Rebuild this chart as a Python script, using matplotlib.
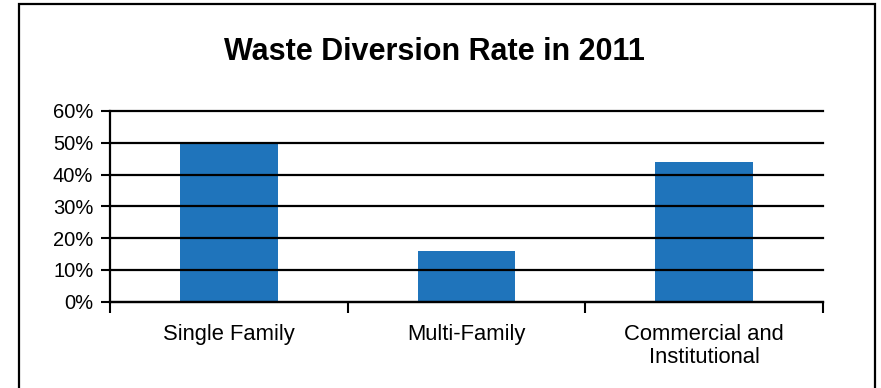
import matplotlib
matplotlib.use("Agg")
import matplotlib.pyplot as plt
from matplotlib.patches import Rectangle

plt.rcParams['font.family'] = ['Liberation Sans', 'DejaVu Sans']

title = "Waste Diversion Rate in 2011"
categories = ["Single Family", "Multi-Family", "Commercial and\nInstitutional"]
rates = [50, 15.9, 43.9]
y_ticks = [0, 10, 20, 30, 40, 50, 60]
y_tick_labels = ["0%", "10%", "20%", "30%", "40%", "50%", "60%"]

bar_color = "#1F74BB"

fig = plt.figure(figsize=(8.81, 3.88), dpi=100)
ax = fig.add_axes([110 / 881, 86.5 / 388, 713 / 881, 190.5 / 388])

positions = list(range(len(categories)))
ax.bar(positions, rates, width=0.41, color=bar_color, zorder=1)

ax.set_xlim(-0.5, len(categories) - 0.5)
ax.set_ylim(y_ticks[0], y_ticks[-1])

# y axis: percentage ticks with black gridlines across the plot
ax.set_yticks(y_ticks)
ax.set_yticklabels(y_tick_labels, fontsize=14.5)
ax.tick_params(axis='y', length=6.5, width=1.5, pad=5.5, color='black')
ax.yaxis.grid(True, color='black', linewidth=1.6, zorder=2)
for line in ax.get_ygridlines():
    line.set_clip_on(False)

# x axis: ticks at category boundaries, labels centred under the bars
boundaries = [p - 0.5 for p in positions] + [positions[-1] + 0.5]
ax.set_xticks(boundaries)
ax.set_xticklabels([""] * len(boundaries))
ax.tick_params(axis='x', which='major', direction='out', length=8, width=1.5)
ax.set_xticks(positions, minor=True)
ax.set_xticklabels(categories, minor=True, fontsize=15.8, linespacing=1.12)
ax.tick_params(axis='x', which='minor', length=0, pad=16)

for side in ('top', 'right'):
    ax.spines[side].set_visible(False)
for side in ('left', 'bottom'):
    ax.spines[side].set_linewidth(1.6)
    ax.spines[side].set_color('black')

fig.text(434 / 881, 1 - 51.5 / 388, title, ha='center', va='center',
         fontsize=22, fontweight='bold')

# outer frame around the chart
frame = Rectangle((19 / 881, -0.05), (875 - 19) / 881, 1 - 4.5 / 388 + 0.05,
                  transform=fig.transFigure, fill=False, edgecolor='black',
                  linewidth=1.6, clip_on=False)
fig.patches.append(frame)

fig.savefig("out.png", dpi=100)
